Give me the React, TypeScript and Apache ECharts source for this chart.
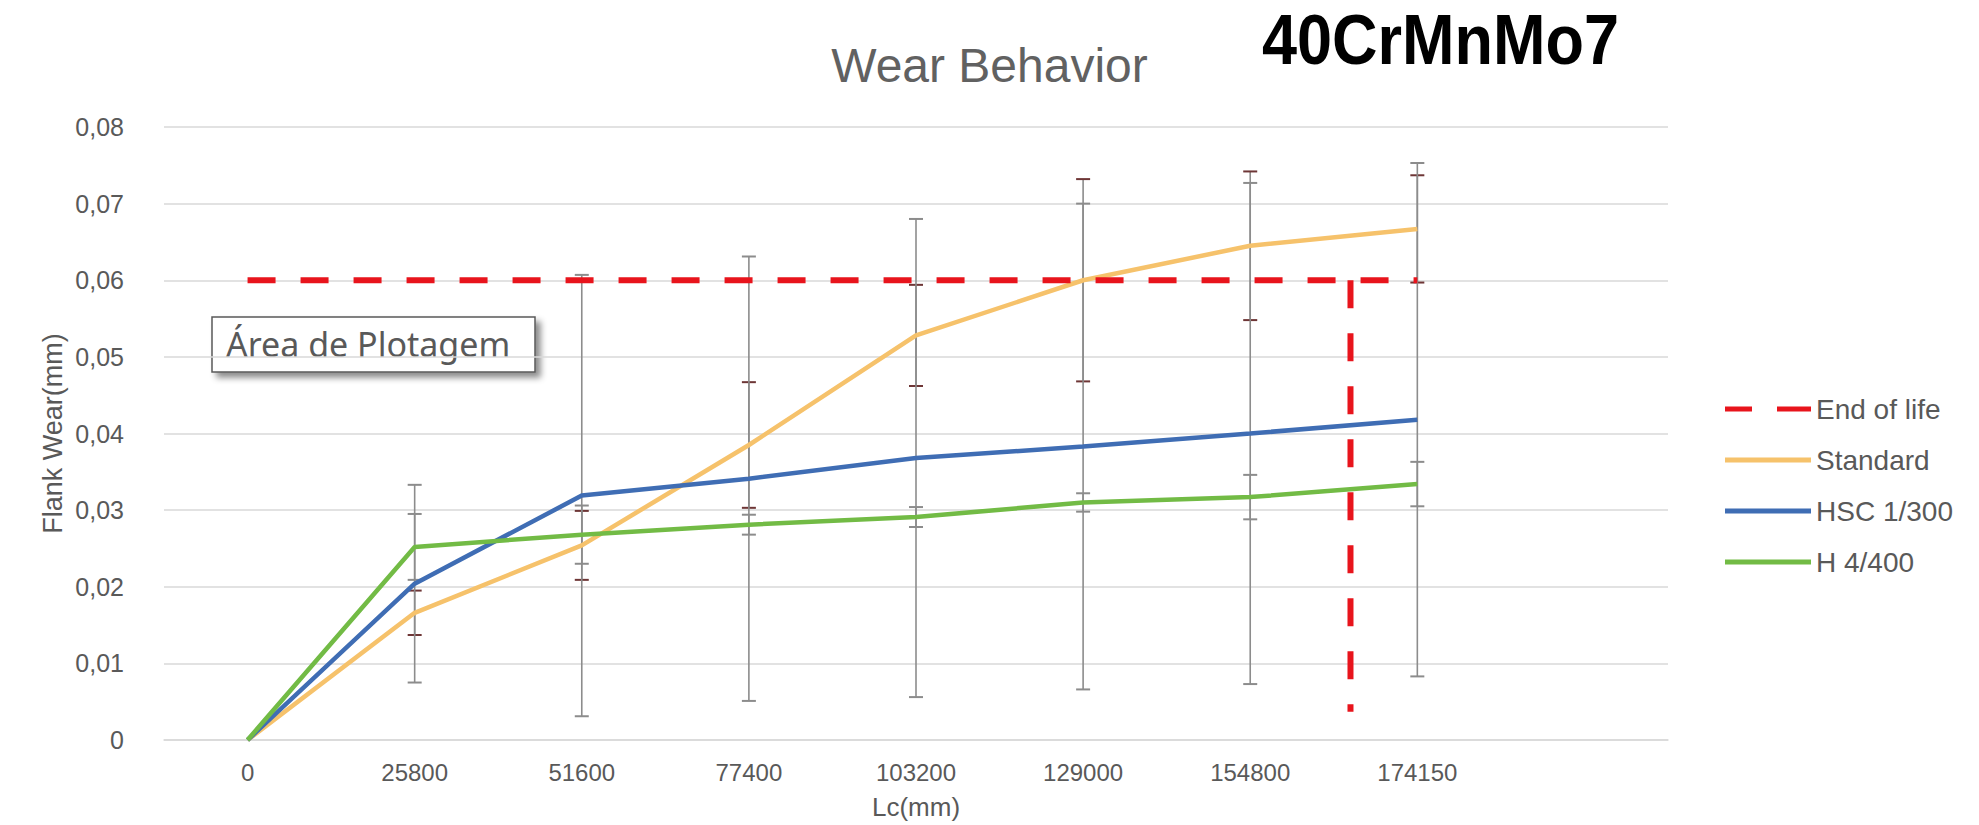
import React, { useEffect, useRef } from "react";
import * as echarts from "echarts";

// ---- data ----
const categories = ["0", "25800", "51600", "77400", "103200", "129000", "154800", "174150", ""];
const yTicks = [0, 0.01, 0.02, 0.03, 0.04, 0.05, 0.06, 0.07, 0.08];

const endOfLife = [0.06, 0.06, 0.06, 0.06, 0.06, 0.06, 0.06, 0.06];
const endOfLifeVertical = [
  [6.6, 0.06],
  [6.6, 0.0037],
];

const standard = [0, 0.0166, 0.0254, 0.0385, 0.0528, 0.06, 0.0645, 0.0667];
const hsc = [0, 0.0204, 0.0319, 0.0341, 0.0368, 0.0383, 0.04, 0.0418];
const h4 = [0, 0.0252, 0.0268, 0.0281, 0.0291, 0.031, 0.0317, 0.0334];

const standardErr = [0, 0.0029, 0.0045, 0.0082, 0.0066, 0.0132, 0.0097, 0.007];
const hscErr = [0, 0.0129, 0.0288, 0.029, 0.0312, 0.0317, 0.0327, 0.0335];
const h4Err = [0, 0.0043, 0.0038, 0.0013, 0.0013, 0.0012, 0.0029, 0.0029];

const FONT = "'Liberation Sans', Arial, sans-serif";
const GRAY_TEXT = "#595959";

const COLORS = {
  eol: "#e8141c",
  standard: "#f6c26b",
  hsc: "#3f6db4",
  h4: "#72bb45",
};

const SOLID_ICON = "path://M0,0H86V5H0Z";
const DASH_ICON = "path://M0,0H27V5H0Z M52,0H86V5H52Z";

function errData(values: number[], errs: number[]) {
  return values.map((v, i) => [i, v - errs[i], v + errs[i]]);
}

function errSeries(name: string, values: number[], errs: number[], stem: string, cap: string, z: number) {
  return {
    type: "custom",
    name,
    z,
    silent: true,
    data: errData(values, errs),
    encode: { x: 0, y: [1, 2] },
    renderItem: (params: any, api: any) => {
      const x = api.value(0);
      const lo = api.value(1);
      const hi = api.value(2);
      if (hi - lo <= 0) return { type: "group", children: [] };
      const pLo = api.coord([x, lo]);
      const pHi = api.coord([x, hi]);
      const hw = 7;
      return {
        type: "group",
        children: [
          { type: "line", shape: { x1: pHi[0], y1: pHi[1], x2: pLo[0], y2: pLo[1] }, style: { stroke: stem, lineWidth: 1.6 } },
          { type: "line", shape: { x1: pHi[0] - hw, y1: pHi[1], x2: pHi[0] + hw, y2: pHi[1] }, style: { stroke: cap, lineWidth: 2 } },
          { type: "line", shape: { x1: pLo[0] - hw, y1: pLo[1], x2: pLo[0] + hw, y2: pLo[1] }, style: { stroke: cap, lineWidth: 2 } },
        ],
      };
    },
  };
}

export default function App() {
  const ref = useRef<HTMLDivElement>(null);

  useEffect(() => {
    if (!ref.current) return;
    const chart = echarts.init(ref.current, null, { renderer: "svg" });
    const option: any = {
      animation: false,
      backgroundColor: "#ffffff",
      textStyle: { fontFamily: FONT },
      title: {
        text: "Wear Behavior",
        left: "center",
        top: 36,
        textStyle: { fontFamily: FONT, fontSize: 48, fontWeight: "normal", color: "#616161" },
      },
      legend: {
        orient: "vertical",
        left: 1720,
        top: 390,
        itemWidth: 86,
        itemHeight: 5,
        itemGap: 23,
        itemStyle: { borderWidth: 0 },
        data: [
          { name: "End of life", icon: DASH_ICON },
          { name: "Standard", icon: SOLID_ICON },
          { name: "HSC 1/300", icon: SOLID_ICON },
          { name: "H 4/400", icon: SOLID_ICON },
        ],
        textStyle: { fontFamily: FONT, fontSize: 28, color: GRAY_TEXT },
      },
      grid: { left: 164, right: 311, top: 127, bottom: 85, containLabel: false, outerBoundsMode: "none" },
      xAxis: [
        {
          type: "category",
          data: categories,
          boundaryGap: true,
          name: "Lc(mm)",
          nameLocation: "middle",
          nameGap: 54,
          nameMoveOverlap: false,
          nameTextStyle: { fontFamily: FONT, fontSize: 26, color: GRAY_TEXT },
          axisLine: { show: true, lineStyle: { color: "#d9d9d9", width: 1.5 } },
          axisTick: { show: false },
          axisLabel: { fontFamily: FONT, fontSize: 24, color: GRAY_TEXT, margin: 20, interval: 0 },
          splitLine: { show: false },
        },
        {
          type: "value",
          min: -0.5,
          max: categories.length - 0.5,
          show: false,
        },
      ],
      yAxis: {
        type: "value",
        min: yTicks[0],
        max: yTicks[yTicks.length - 1],
        interval: 0.01,
        name: "Flank Wear(mm)",
        nameLocation: "middle",
        nameRotate: 90,
        nameGap: 98,
        nameMoveOverlap: false,
        nameTextStyle: { fontFamily: FONT, fontSize: 27, color: GRAY_TEXT },
        axisLine: { show: false },
        axisTick: { show: false },
        axisLabel: {
          fontFamily: FONT,
          fontSize: 25,
          color: GRAY_TEXT,
          margin: 40,
          formatter: (v: number) => (v === 0 ? "0" : v.toFixed(2).replace(".", ",")),
        },
        splitLine: { lineStyle: { color: "#d9d9d9", width: 1.5 } },
      },
      series: [
        errSeries("err-standard", standard, standardErr, "#8c8c8c", "#6e3636", 1),
        errSeries("err-hsc", hsc, hscErr, "#8c8c8c", "#8c8c8c", 2),
        errSeries("err-h4", h4, h4Err, "#8c8c8c", "#8c8c8c", 2),
        {
          type: "line",
          name: "End of life",
          data: endOfLife,
          symbol: "none",
          z: 5,
          lineStyle: { color: COLORS.eol, width: 6, type: [28, 25] },
          itemStyle: { color: COLORS.eol },
        },
        {
          type: "line",
          name: "End of life",
          xAxisIndex: 1,
          data: endOfLifeVertical,
          symbol: "none",
          z: 5,
          lineStyle: { color: COLORS.eol, width: 6, type: [28, 25] },
          itemStyle: { color: COLORS.eol },
        },
        {
          type: "line",
          name: "Standard",
          data: standard,
          symbol: "none",
          z: 4,
          lineStyle: { color: COLORS.standard, width: 4.5 },
          itemStyle: { color: COLORS.standard },
        },
        {
          type: "line",
          name: "HSC 1/300",
          data: hsc,
          symbol: "none",
          z: 4,
          lineStyle: { color: COLORS.hsc, width: 4.5 },
          itemStyle: { color: COLORS.hsc },
        },
        {
          type: "line",
          name: "H 4/400",
          data: h4,
          symbol: "none",
          z: 4,
          lineStyle: { color: COLORS.h4, width: 4.5 },
          itemStyle: { color: COLORS.h4 },
        },
      ],
      graphic: [
        {
          type: "text",
          x: 1262,
          y: 40,
          scaleX: 0.9,
          style: {
            text: "40CrMnMo7",
            fontFamily: FONT,
            fontSize: 70,
            fontWeight: "bold",
            fill: "#000000",
            textAlign: "left",
            textVerticalAlign: "middle",
          },
        },
        {
          type: "group",
          z: 100,
          children: [
            {
              type: "rect",
              shape: { x: 212, y: 317, width: 323, height: 55 },
              style: {
                fill: "#ffffff",
                stroke: "#595959",
                lineWidth: 1.5,
                shadowBlur: 6,
                shadowOffsetX: 5,
                shadowOffsetY: 5,
                shadowColor: "rgba(0,0,0,0.45)",
              },
            },
            {
              type: "text",
              x: 226,
              y: 344,
              style: {
                text: "Área de Plotagem",
                fontFamily: "'Noto Sans', 'Open Sans', sans-serif",
                fontSize: 34,
                fill: GRAY_TEXT,
                textAlign: "left",
                textVerticalAlign: "middle",
              },
            },
          ],
        },
      ],
    };
    chart.setOption(option);
    return () => chart.dispose();
  }, []);

  return (
    <div
      ref={ref}
      style={{ position: "fixed", left: 0, top: 0, width: 1979, height: 825, background: "#fff" }}
    />
  );
}
